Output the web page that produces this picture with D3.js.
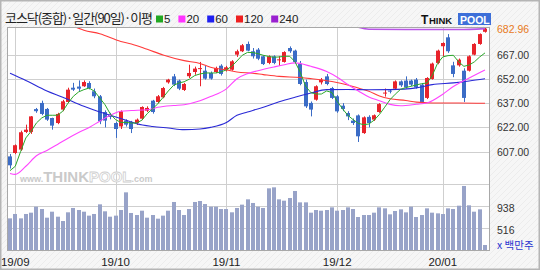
<!DOCTYPE html>
<html>
<head>
<meta charset="utf-8">
<script src="https://cdn.jsdelivr.net/npm/d3@7"></script>
<style>
body { margin: 0; background: #f5f5f5; }
svg { display: block; }
</style>
</head>
<body>
<svg id="chart" width="540" height="270"></svg>
<script>
//daily candles, index 0 = 19/08/30 ... index 90 = 20/01/14
var opens = [604.1,606.2,608.3,619.2,619.2,633.3,637.1,633.4,627.8,624.7,
    633.0,637.7,646.5,647.2,647.4,649.4,644.3,641.2,631.5,629.9,
    624.7,622.6,626.2,625.4,624.7,627.4,632.3,638.5,637.7,640.6,
    649.8,653.5,650.9,645.1,653.6,656.2,658.3,657.0,655.6,656.2,
    660.1,657.6,657.6,666.9,669.0,673.5,669.0,670.0,665.9,661.8,
    665.9,663.4,662.4,671.0,669.4,661.1,650.0,637.1,639.1,649.8,
    653.5,646.3,641.2,635.4,630.9,626.2,629.4,618.5,628.5,626.8,
    631.5,643.2,644.7,645.9,650.4,650.9,650.9,651.5,648.4,640.2,
    651.9,661.8,672.1,677.6,660.3,660.3,657.0,657.0,666.9,673.5,681.0];
var highs = [605.6,611.5,620.0,623.7,629.0,634.0,638.5,634.0,628.0,631.0,
    639.0,646.5,649.5,651.0,651.0,650.5,646.0,642.0,632.5,631.0,
    625.5,632.5,627.0,626.0,627.5,635.0,635.0,639.0,642.0,647.0,
    652.0,655.0,651.5,649.5,660.7,659.5,662.4,660.0,656.5,659.5,
    661.0,660.0,663.5,670.0,673.5,675.0,671.0,671.0,666.5,666.5,
    666.5,666.0,669.0,672.0,670.0,663.0,651.5,638.0,648.0,652.5,
    655.0,647.0,642.0,637.0,632.0,627.5,630.0,628.8,629.5,630.0,
    637.0,646.0,645.5,651.0,651.0,653.5,651.5,652.5,649.0,653.0,
    662.0,670.0,674.5,679.6,662.5,664.5,658.5,666.5,674.0,680.0,683.5];
var lows = [596.6,605.5,607.5,618.5,618.0,631.0,629.5,626.0,620.6,624.0,
    632.0,637.0,644.5,644.5,647.0,645.5,640.0,624.0,622.0,627.0,
    615.5,621.0,622.5,618.5,623.5,626.5,631.5,630.5,637.0,640.0,
    649.0,647.5,645.0,644.5,652.5,654.5,647.4,651.5,651.5,655.5,
    654.0,656.5,657.0,665.5,668.5,669.0,664.5,663.5,660.5,661.0,
    661.0,660.0,662.0,668.0,661.5,648.0,634.0,628.8,638.5,648.5,
    648.0,639.5,631.0,632.0,626.5,623.5,613.0,618.0,622.0,626.0,
    631.0,641.0,643.0,645.5,647.0,646.0,647.5,646.0,637.0,639.5,
    651.5,661.0,665.9,668.0,653.0,659.5,637.7,656.5,666.5,673.0,680.5];
var closes = [598.6,611.0,619.0,620.6,628.8,632.0,630.3,626.8,623.1,630.3,
    638.1,645.3,645.3,645.9,650.0,646.3,641.2,625.8,626.2,628.5,
    621.0,631.9,623.7,621.0,626.8,634.6,634.0,631.5,641.2,646.3,
    651.5,648.4,645.9,648.8,655.6,658.3,658.6,652.1,652.1,658.7,
    655.0,659.1,662.8,669.0,672.7,669.4,665.9,664.4,661.1,665.9,
    661.8,664.0,668.5,669.0,662.4,648.8,635.0,633.0,647.4,651.5,
    648.8,640.2,631.9,633.4,628.8,624.7,616.5,628.2,624.7,629.5,
    636.4,643.5,644.4,650.4,648.0,646.7,648.4,646.7,637.7,652.5,
    661.4,669.4,674.1,669.0,655.0,663.8,640.2,665.9,673.5,679.6,682.96];

//volume, million shares
var volumes = [701,785,701,785,810,925,880,714,829,733,
    650,817,900,861,829,753,785,970,836,733,
    753,861,1200,804,765,848,714,765,695,753,
    848,1015,861,765,880,1015,1034,976,925,925,
    880,880,817,900,964,1066,996,925,900,1277,
    1296,1066,1040,1091,1226,1008,1008,810,861,848,
    861,912,848,861,912,880,727,765,765,810,
    912,893,778,842,874,816,925,727,765,893,
    810,797,784,893,880,944,1322,951,829,874,190];

//moving averages
var ma5 = [595.3,598,607,615.5,619.6,624.7,627.8,629.5,629.5,629.5,
    632,637,641.2,643.9,645.3,646.3,644.3,640.2,636,630.3,
    626.8,625.1,625.1,624.7,624.7,626.5,630.5,633.5,636.5,640.5,
    644.5,648,649.4,650.2,651.8,654,655,655.6,655.6,655.6,
    656.3,657.5,659.7,663,666.5,668.3,668.2,667.5,666.5,665.8,
    665.3,665.5,665.9,665.9,662.5,656,647.5,643.5,642.6,642.6,
    644.5,643.5,638,633.5,629.5,626.8,624.5,623.7,624.1,626.5,
    630,634.5,639.1,642.5,645.5,646.6,647.4,648.2,649,649.4,
    654,661.5,665.5,666.3,666.5,662.5,659.7,660.5,662.5,665.5,668];
var ma20 = [[0,593.6],[1,593],[3,598],[5,604.5],[7,607.8],[9,611.5],[11,615.3],[13,618.8],
    [15,622],[17,625.8],[19,629.5],[21,632],[23,632.4],[26,632.9],[28,634.4],[31,635.5],
    [33,636],[36,638.4],[38,641],[41,645.8],[43,652],[45,655.2],[47,657],[50,659.3],
    [52,660.7],[54,661.8],[57,659.7],[60,656.5],[62,653],[64,648.5],[66,644.5],[68,640.8],
    [70,638.5],[72,636.2],[74,635.4],[77,636.3],[79,637.1],[82,642.5],[84,647.2],[87,652.5],[90,657.5]];
var ma60 = [[0,655.5],[3,651],[7,644.5],[10,640.6],[14,635],[17,631.5],[19,629.5],[22,626.4],
    [24,624.3],[27,622.6],[30,621.6],[33,620.6],[36,621],[38,622],[41,625],[43,629.5],
    [45,631.5],[48,634.5],[51,637.8],[54,640.6],[57,643.2],[60,645.3],[64,645.4],[68,645.2],
    [72,645.3],[77,646.4],[80,648.4],[84,649.5],[87,650.6],[90,652]];
var ma120 = [[12,684.5],[14,682],[17,679.8],[21,675],[23,673.5],[26,670.2],[29,666.7],[33,663.2],
    [36,661.5],[38,659.1],[41,657.5],[43,656.2],[46,655.4],[48,654.6],[51,653.5],[55,652.8],
    [57,652.1],[61,650.3],[64,648.2],[66,646.3],[68,644.3],[70,641.4],[72,639.7],[75,638.6],
    [77,637.6],[80,637.1],[85,637.1],[90,636.9]];
var ma240 = [[66,683.8],[68,682.6],[75,682.4],[85,682.4],[90,683]];

var monthLabels = ["19/09", "19/10", "19/11", "19/12", "20/01"];
var monthIdx = [1, 20, 41, 62, 82];
var priceTicks = [607, 622, 637, 652, 667];
var volTicks = [516, 938];
var lastPrice = 682.96;

var legendNames = ["5", "20", "60", "120", "240"];
var legendColors = ["#22a822", "#ff33ff", "#2020f0", "#ee2020", "#9a20d0"];

var svg = d3.select("#chart");

//background with faint texture
var defs = svg.append("defs");
var pat = defs.append("pattern")
    .attr("id", "tex")
    .attr("width", 6).attr("height", 6)
    .attr("patternUnits", "userSpaceOnUse");
pat.append("rect").attr("width", 6).attr("height", 6).attr("fill", "#f6f6f6");
pat.append("path").attr("d", "M0,6 L6,0").attr("stroke", "#ececec").attr("stroke-width", 1);

svg.append("rect")
    .attr("width", 540).attr("height", 270)
    .attr("fill", "url(#tex)");

defs.append("clipPath").attr("id", "priceClip")
    .append("rect").attr("x", 7).attr("y", 27).attr("width", 483).attr("height", 157);

//plot box (window.top is read-only, so not "top")
var plotL = 7, plotR = 490, plotT = 27, plotB = 250;

svg.append("rect")
    .attr("x", plotL).attr("y", plotT)
    .attr("width", plotR - plotL).attr("height", plotB - plotT)
    .attr("fill", "#ffffff");

//scales
var x = d3.scaleLinear().domain([0, 90]).range([10, 485]);
var y = d3.scaleLinear().domain([607, 667]).range([151.7, 54.5]);
var yv = d3.scaleLinear().domain([94, 1360]).range([250, 184]);

function px(v) { return Math.round(v) + 0.5; }

//grid
var grid = svg.append("g").attr("stroke", "#cfcfcf").attr("stroke-width", 1);

grid.selectAll("line.h")
    .data(priceTicks)
    .enter().append("line")
    .attr("x1", plotL).attr("x2", plotR)
    .attr("y1", function(d) { return px(y(d)); })
    .attr("y2", function(d) { return px(y(d)); });

grid.selectAll("line.v")
    .data(volTicks.concat([1360]))
    .enter().append("line")
    .attr("x1", plotL).attr("x2", plotR)
    .attr("y1", function(d) { return px(yv(d)); })
    .attr("y2", function(d) { return px(yv(d)); });

grid.selectAll("line.m")
    .data(monthIdx)
    .enter().append("line")
    .attr("x1", function(d) { return px(x(d)); })
    .attr("x2", function(d) { return px(x(d)); })
    .attr("y1", plotT).attr("y2", plotB);

//watermark
var wm = svg.append("text")
    .attr("x", 20).attr("y", 182)
    .attr("font-family", "Liberation Sans, Arial, sans-serif")
    .attr("font-weight", "bold")
    .attr("fill", "#cacaca");
wm.append("tspan").attr("font-size", 9).text("www.");
wm.append("tspan").attr("font-size", 15).text("THINK");
wm.append("tspan").attr("font-size", 15).attr("fill", "#ffffff")
    .attr("stroke", "#cfcfcf").attr("stroke-width", 0.8).text("POOL");
wm.append("tspan").attr("font-size", 9).text(".com");

//volume bars
svg.append("g").selectAll("rect")
    .data(volumes)
    .enter().append("rect")
    .attr("x", function(d, i) { return Math.round(x(i)) - 2; })
    .attr("width", 4)
    .attr("y", function(d) { return yv(d); })
    .attr("height", function(d) { return 250 - yv(d); })
    .attr("fill", "#98a3c8");

//candles
var idx = d3.range(closes.length);
var candles = svg.append("g").attr("clip-path", "url(#priceClip)");

function candleColor(i) { return closes[i] >= opens[i] ? "#e8232b" : "#3b6cc6"; }

candles.selectAll("line")
    .data(idx)
    .enter().append("line")
    .attr("x1", function(i) { return px(x(i)); })
    .attr("x2", function(i) { return px(x(i)); })
    .attr("y1", function(i) { return y(highs[i]); })
    .attr("y2", function(i) { return y(lows[i]); })
    .attr("stroke", candleColor);

candles.selectAll("rect")
    .data(idx)
    .enter().append("rect")
    .attr("x", function(i) { return Math.round(x(i)) - 2; })
    .attr("width", 4)
    .attr("y", function(i) { return y(Math.max(opens[i], closes[i])); })
    .attr("height", function(i) { return Math.max(1, Math.abs(y(opens[i]) - y(closes[i]))); })
    .attr("fill", candleColor);

//moving averages
var line = d3.line()
    .x(function(d) { return x(d[0]); })
    .y(function(d) { return y(d[1]); })
    .curve(d3.curveMonotoneX);

var maLines = svg.append("g").attr("clip-path", "url(#priceClip)").attr("fill", "none");

maLines.append("path").datum(ma240).attr("d", line)
    .attr("stroke", "#b855e6").attr("stroke-width", 1.6);
maLines.append("path").datum(ma120).attr("d", line)
    .attr("stroke", "#ff3a3a").attr("stroke-width", 1.1);
maLines.append("path").datum(ma60).attr("d", line)
    .attr("stroke", "#2a2ad6").attr("stroke-width", 1.1);
maLines.append("path").datum(ma20).attr("d", line)
    .attr("stroke", "#ff44ff").attr("stroke-width", 1.1);
maLines.append("path").datum(ma5.map(function(v, i) { return [i, v]; }))
    .attr("d", line.curve(d3.curveLinear))
    .attr("stroke", "#2aa82a").attr("stroke-width", 1);

//frame
svg.append("rect")
    .attr("x", plotL + 0.5).attr("y", plotT + 0.5)
    .attr("width", plotR - plotL - 1).attr("height", plotB - plotT)
    .attr("fill", "none")
    .attr("stroke", "#a8a8a8");

//right axis labels
var labelFont = "Liberation Sans, Arial, sans-serif";
svg.append("g").selectAll("text")
    .data(priceTicks)
    .enter().append("text")
    .attr("x", 497)
    .attr("y", function(d) { return y(d) + 4; })
    .attr("font-family", labelFont).attr("font-size", 10.5)
    .attr("fill", "#333")
    .text(function(d) { return d.toFixed(2); });

svg.append("text")
    .attr("x", 497).attr("y", y(lastPrice) + 4)
    .attr("font-family", labelFont).attr("font-size", 10.5)
    .attr("fill", "#e87a22")
    .text(lastPrice.toFixed(2));

svg.append("g").selectAll("text")
    .data(volTicks)
    .enter().append("text")
    .attr("x", 497)
    .attr("y", function(d) { return yv(d) + 6; })
    .attr("font-family", labelFont).attr("font-size", 10.5)
    .attr("fill", "#333")
    .text(function(d) { return d; });

svg.append("text")
    .attr("x", 497).attr("y", 249)
    .attr("font-family", "Noto Sans CJK KR, sans-serif").attr("font-size", 10.5)
    .attr("fill", "#2a35d0")
    .text("x 백만주");

//month labels
svg.append("g").selectAll("text")
    .data(monthIdx)
    .enter().append("text")
    .attr("x", function(d) { return x(d); })
    .attr("y", 266)
    .attr("text-anchor", "middle")
    .attr("font-family", labelFont).attr("font-size", 11.5)
    .attr("fill", "#222")
    .text(function(d, i) { return monthLabels[i]; });

//title + legend
var title = svg.append("text")
    .attr("x", 5).attr("y", 22.5)
    .attr("font-family", "Noto Sans CJK KR, sans-serif")
    .attr("font-size", 13)
    .attr("textLength", 148)
    .attr("lengthAdjust", "spacing")
    .attr("fill", "#222")
    .text("코스닥(종합)·일간(90일)·이평");

var lx = 156;
legendNames.forEach(function(name, i) {
    svg.append("rect")
        .attr("x", lx).attr("y", 15.5)
        .attr("width", 7).attr("height", 7)
        .attr("fill", legendColors[i]);
    var t = svg.append("text")
        .attr("x", lx + 8).attr("y", 22.5)
        .attr("font-family", labelFont).attr("font-size", 11.5)
        .attr("fill", "#222")
        .text(name);
    lx += 8 + t.node().getComputedTextLength() + 8;
});

//logo
var logo = svg.append("g").attr("font-family", labelFont).attr("font-weight", "bold");
logo.append("text").attr("x", 421).attr("y", 24).attr("font-size", 12).attr("fill", "#111").text("T");
logo.append("text").attr("x", 429).attr("y", 24).attr("font-size", 9.5).attr("fill", "#111").text("HINK");
logo.append("rect").attr("x", 458).attr("y", 13).attr("width", 33).attr("height", 12).attr("fill", "#3d6fd9");
logo.append("text").attr("x", 460).attr("y", 23.5).attr("font-size", 10.5).attr("fill", "#fff").text("POOL");

//outer border
svg.append("rect")
    .attr("x", 0.75).attr("y", 0.75)
    .attr("width", 538.5).attr("height", 268.5)
    .attr("fill", "none")
    .attr("stroke", "#b5b5b5").attr("stroke-width", 1.5);
</script>
</body>
</html>
